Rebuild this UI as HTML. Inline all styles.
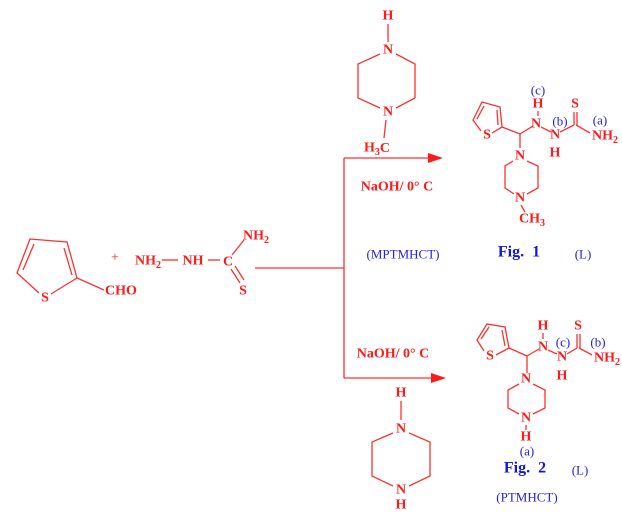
<!DOCTYPE html>
<html><head><style>
html,body{margin:0;padding:0;background:#fff}
svg{display:block}
svg text{font-family:"Liberation Serif","Times New Roman",serif;font-weight:bold;fill:#ff1a1a;font-size:14px}
svg text.b{fill:#2222ee;font-weight:normal;font-size:13px}
svg text.f{fill:#1515e0;font-weight:bold;font-size:16px}
line,polyline,polygon{stroke:#ff3030;stroke-width:1.3;fill:none}
</style></head><body>
<svg width="622" height="518" viewBox="0 0 622 518" text-anchor="middle" dominant-baseline="central" font-family="Liberation Serif, serif">
<!-- reactant thiophene -->
<polyline points="39,293 17,273 30,239 67,242 77,278 51,294"/>
<line x1="23" y1="270" x2="34" y2="244"/>
<line x1="64" y1="248" x2="72" y2="275"/>
<line x1="77" y1="278" x2="104" y2="290"/>
<text x="45" y="298">S</text>
<text x="121" y="291">CHO</text>
<text x="115" y="258" style="font-weight:normal">+</text>
<text x="148" y="261">NH<tspan font-size="10" dy="4">2</tspan></text>
<line x1="162" y1="260" x2="178" y2="260"/>
<text x="193" y="261">NH</text>
<line x1="208" y1="260" x2="220" y2="260"/>
<text x="228" y="262">C</text>
<line x1="232" y1="255" x2="244" y2="240"/>
<text x="256" y="236">NH<tspan font-size="10" dy="4">2</tspan></text>
<line x1="231" y1="269" x2="240" y2="283"/>
<line x1="235" y1="266" x2="244" y2="280"/>
<text x="243" y="291">S</text>
<!-- arrows -->
<line x1="255" y1="268" x2="344" y2="268"/>
<line x1="344" y1="158" x2="344" y2="378"/>
<line x1="344" y1="158" x2="430" y2="158"/>
<polygon points="428,153 443,158 428,163" style="fill:#ff1a1a;stroke:none"/>
<line x1="344" y1="378" x2="433" y2="378"/>
<polygon points="431,373 446,378 431,383" style="fill:#ff1a1a;stroke:none"/>
<text x="397" y="187" font-size="13">NaOH/ 0° C</text>
<text x="393" y="354" font-size="13">NaOH/ 0° C</text>
<!-- top piperazine -->
<text x="388" y="16">H</text>
<line x1="388" y1="24" x2="388" y2="42"/>
<text x="388" y="50">N</text>
<polyline points="396,54 415,64 415,98 396,108"/>
<polyline points="380,54 358,64 358,98 380,108"/>
<text x="388" y="112">N</text>
<line x1="386" y1="120" x2="384" y2="138"/>
<text x="377" y="148">H<tspan font-size="10" dy="4">3</tspan><tspan dy="-4">C</tspan></text>
<!-- bottom piperazine -->
<text x="401" y="393">H</text>
<line x1="401" y1="401" x2="401" y2="420"/>
<text x="401" y="429">N</text>
<polyline points="409,433 430,442 430,476 409,486"/>
<polyline points="393,433 372,442 372,476 393,486"/>
<text x="401" y="490">N</text>
<text x="401" y="505">H</text>
<!-- product 1 -->
<polyline points="481,131 473,120 482,102 500,107 502,127 492,133"/>
<line x1="477" y1="119" x2="484" y2="106"/>
<line x1="497" y1="110" x2="498" y2="125"/>
<text x="487" y="135">S</text>
<line x1="502" y1="127" x2="520" y2="134"/>
<line x1="520" y1="134" x2="533" y2="126"/>
<line x1="520" y1="134" x2="520" y2="148"/>
<text x="538" y="90" class="b">(c)</text>
<text x="538" y="104">H</text>
<line x1="538" y1="111" x2="538" y2="116"/>
<text x="536" y="124">N</text>
<line x1="541" y1="127" x2="551" y2="132"/>
<text x="555" y="135">N</text>
<text x="560" y="121" class="b">(b)</text>
<text x="555" y="153">H</text>
<line x1="560" y1="132" x2="574" y2="125"/>
<line x1="574" y1="125" x2="574" y2="112"/>
<line x1="577" y1="125" x2="577" y2="112"/>
<text x="575" y="104">S</text>
<line x1="576" y1="125" x2="590" y2="133"/>
<text x="605" y="136">NH<tspan font-size="10" dy="4">2</tspan></text>
<text x="600" y="120" class="b">(a)</text>
<text x="520" y="156">N</text>
<polyline points="513,161 505,166 505,188 514,194"/>
<polyline points="527,161 538,166 538,188 527,194"/>
<text x="520" y="198">N</text>
<line x1="521" y1="205" x2="525" y2="212"/>
<text x="532" y="219">CH<tspan font-size="10" dy="4">3</tspan></text>
<text x="403" y="254" class="b">(MPTMHCT)</text>
<text x="519" y="252" class="f">Fig.&#160; 1</text>
<text x="583" y="254" class="b">(L)</text>
<!-- product 2 -->
<polyline points="484,351 477,340 487,324 505,327 509,348 496,355"/>
<line x1="481" y1="339" x2="489" y2="327"/>
<line x1="502" y1="330" x2="505" y2="346"/>
<text x="490" y="356">S</text>
<line x1="509" y1="348" x2="527" y2="356"/>
<line x1="527" y1="356" x2="539" y2="349"/>
<line x1="527" y1="356" x2="527" y2="373"/>
<text x="543" y="326">H</text>
<line x1="543" y1="333" x2="543" y2="339"/>
<text x="543" y="347">N</text>
<line x1="548" y1="350" x2="557" y2="354"/>
<text x="562" y="357">N</text>
<text x="563" y="342" class="b">(c)</text>
<text x="562" y="376">H</text>
<line x1="567" y1="354" x2="577" y2="348"/>
<line x1="577" y1="348" x2="577" y2="334"/>
<line x1="580" y1="348" x2="580" y2="334"/>
<text x="578" y="326">S</text>
<line x1="579" y1="348" x2="592" y2="355"/>
<text x="607" y="358">NH<tspan font-size="10" dy="4">2</tspan></text>
<text x="598" y="342" class="b">(b)</text>
<text x="526" y="379">N</text>
<polyline points="519,384 508,390 508,408 519,414"/>
<polyline points="533,384 545,390 545,408 533,414"/>
<text x="526" y="418">N</text>
<line x1="526" y1="425" x2="526" y2="430"/>
<text x="526" y="437">H</text>
<text x="527" y="451" class="b">(a)</text>
<text x="525" y="468" class="f">Fig.&#160; 2</text>
<text x="580" y="470" class="b">(L)</text>
<text x="527" y="497" class="b">(PTMHCT)</text>
</svg>
</body></html>
